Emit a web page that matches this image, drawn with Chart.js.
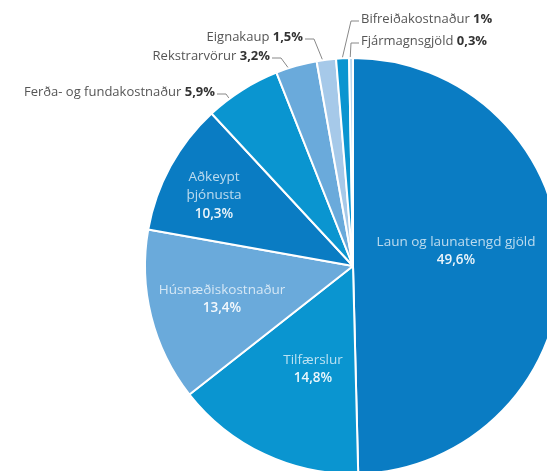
<!DOCTYPE html>
<html>
<head>
<meta charset="utf-8">
<script src="https://cdn.jsdelivr.net/npm/chart.js@4"></script>
<style>
    html, body { margin: 0; padding: 0; background: #fff; overflow: hidden; }
    body { width: 547px; height: 471px; position: relative; }
    #myChart { position: absolute; left: 0; top: 0; }
</style>
</head>
<body>
<canvas id="myChart" width="600" height="520"></canvas>
<script>
// Data
const categories = ['Laun og launatengd gjöld', 'Tilfærslur', 'Húsnæðiskostnaður', 'Aðkeypt þjónusta',
    'Ferða- og fundakostnaður', 'Rekstrarvörur', 'Eignakaup', 'Bifreiðakostnaður', 'Fjármagnsgjöld']
const shares = [49.6, 14.8, 13.4, 10.3, 5.9, 3.2, 1.5, 1.0, 0.3]
const shareLabels = ['49,6%', '14,8%', '13,4%', '10,3%', '5,9%', '3,2%', '1,5%', '1%', '0,3%']

const colors = ['#0a7cc3', '#0a95d0', '#6aaadb', '#0a7cc3', '#0a95d0', '#6aaadb', '#a6c9e9', '#0a95d0', '#b9d6ef']

// Label placement (offsets from pie centre)
// inside: lines of text; outside: text with leader line to the slice edge
const labelStyle = [
    { inside: true, lines: ['Laun og launatengd gjöld'], dx: 103, dy: -24 },
    { inside: true, lines: ['Tilfærslur'], dx: -40, dy: 94 },
    { inside: true, lines: ['Húsnæðiskostnaður'], dx: -131, dy: 24 },
    { inside: true, lines: ['Aðkeypt', 'þjónusta'], dx: -139, dy: -89 },
    { inside: false, align: 'right', dx: -138, dy: -174, at: 0.3 },
    { inside: false, align: 'right', dx: -83, dy: -210, at: 0.3 },
    { inside: false, align: 'right', dx: -50, dy: -229, at: 0.3 },
    { inside: false, align: 'left', dx: 8, dy: -247, at: 0.5 },
    { inside: false, align: 'left', dx: 8, dy: -225, at: 0.3 }
]

const FONT = '"Open Sans", Lato, sans-serif'

const pieLabels = {
    id: 'pieLabels',
    afterDatasetsDraw(chart) {
        const ctx = chart.ctx
        const arcs = chart.getDatasetMeta(0).data
        ctx.save()
        ctx.textBaseline = 'middle'
        arcs.forEach(function (arc, i) {
            const st = labelStyle[i]
            const cx = arc.x, cy = arc.y
            const x = cx + st.dx, y = cy + st.dy
            if (st.inside) {
                ctx.textAlign = 'center'
                ctx.font = '13.5px ' + FONT
                ctx.fillStyle = 'rgba(255,255,255,0.72)'
                st.lines.forEach(function (line, k) {
                    ctx.fillText(line, x, y + k * 18.5)
                })
                ctx.font = '600 13.5px ' + FONT
                ctx.fillStyle = 'rgba(255,255,255,0.92)'
                ctx.fillText(shareLabels[i], x, y + st.lines.length * 18.5)
                return
            }
            // outside label: name regular + share bold
            ctx.font = '13px ' + FONT
            const nameText = categories[i] + ' '
            const w1 = ctx.measureText(nameText).width
            ctx.font = 'bold 13px ' + FONT
            const w2 = ctx.measureText(shareLabels[i]).width
            const left = st.align === 'right' ? x - w1 - w2 : x
            ctx.textAlign = 'left'
            ctx.font = '13px ' + FONT
            ctx.fillStyle = '#555'
            ctx.fillText(nameText, left, y)
            ctx.font = 'bold 13px ' + FONT
            ctx.fillStyle = '#333'
            ctx.fillText(shareLabels[i], left + w1, y)

            // leader line
            const a = arc.startAngle + (arc.endAngle - arc.startAngle) * st.at
            const ex = cx + Math.cos(a) * (arc.outerRadius + 1)
            const ey = cy + Math.sin(a) * (arc.outerRadius + 1)
            const sx = st.align === 'right' ? x + 2 : x - 2
            const kx = st.align === 'right' ? sx + 9 : sx - 8
            ctx.strokeStyle = '#888'
            ctx.lineWidth = 1
            ctx.beginPath()
            ctx.moveTo(sx, y + 2)
            ctx.lineTo(kx, y + 2)
            ctx.lineTo(ex, ey)
            ctx.stroke()
        })
        ctx.restore()
    }
}

const myChart = document.getElementById('myChart')

const chart = new Chart(myChart, {
    type: 'pie',
    data: {
        labels: categories,
        datasets: [
            {
                data: shares,
                backgroundColor: colors,
                borderColor: '#ffffff',
                borderWidth: 2,
                hoverOffset: 0
            }
        ]
    },
    options: {
        responsive: false,
        devicePixelRatio: 1,
        animation: false,
        events: [],
        radius: 208,
        layout: { padding: { left: 145, top: 58, right: 39, bottom: 46 } },
        plugins: {
            legend: { display: false },
            tooltip: { enabled: false }
        }
    },
    plugins: [pieLabels]
})
</script>
</body>
</html>
